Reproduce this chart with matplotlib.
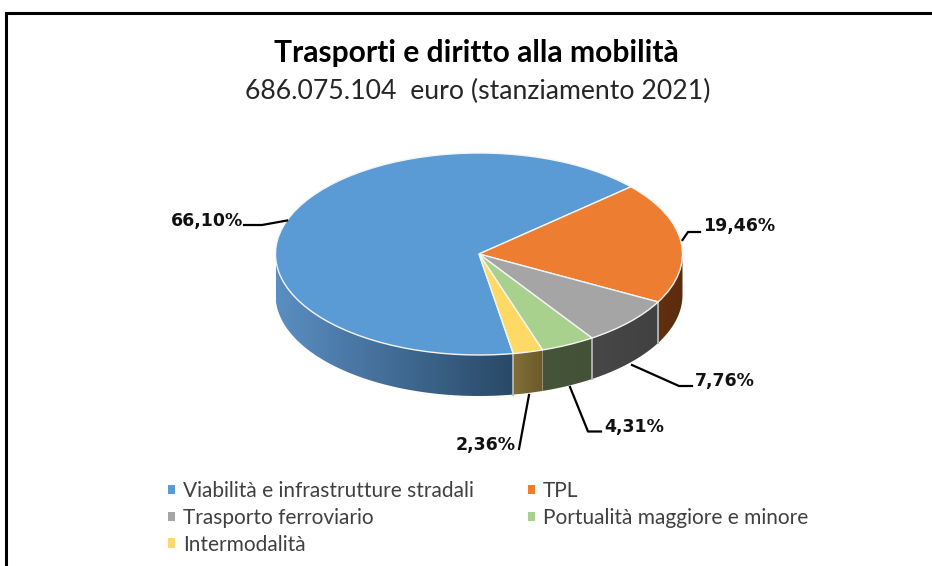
"""Trasporti e diritto alla mobilita: 3D style pie chart."""

import matplotlib

matplotlib.use("Agg")
import matplotlib.pyplot as plt
import numpy as np
from matplotlib.colors import LinearSegmentedColormap
from matplotlib.patches import Patch, Polygon

categories = [
    "Viabilità e infrastrutture stradali",
    "TPL",
    "Trasporto ferroviario",
    "Portualità maggiore e minore",
    "Intermodalità",
]
values = [66.10, 19.46, 7.76, 4.31, 2.36]
value_labels = ["66,10%", "19,46%", "7,76%", "4,31%", "2,36%"]
colors = ["#5B9BD5", "#ED7D31", "#A5A5A5", "#A9D18E", "#FFD966"]
wall_left = ["#5A8EC2", "#63300F", "#474747", "#46553A", "#80703A"]
wall_right = ["#294967", "#5A2C0E", "#414141", "#435236", "#6C5A28"]

START_ANGLE = -80.3
DEPTH = 41 / 101

fig = plt.figure(figsize=(9.32, 5.66), dpi=100)
W, H = 932, 566

# overlay in pixel coordinates for frame, titles and leader lines
over = fig.add_axes([0, 0, 1, 1], zorder=3)
over.set_xlim(0, W)
over.set_ylim(H, 0)
over.axis("off")
over.patch.set_alpha(0)

# pie axes: unit circle squashed to the ellipse, with room below for the wall
left, right, top, bottom = 275.5, 682.5, 153.0, 396.0
ax = fig.add_axes([left / W, 1 - bottom / H, (right - left) / W, (bottom - top) / H])
wedges, _ = ax.pie(
    values,
    colors=colors,
    startangle=START_ANGLE,
    counterclock=False,
    radius=1,
    wedgeprops={"edgecolor": "#F4F4F4", "linewidth": 1.0},
)

# side wall of every slice, only where it faces the viewer
edges = START_ANGLE - np.cumsum([0] + values) * 3.6
for i in range(len(values)):
    a, b = edges[i], edges[i + 1]
    while a < -180:
        a, b = a + 360, b + 360
    hi, lo = min(a, 0), max(b, -180)
    if hi <= lo:
        continue
    t = np.radians(np.linspace(hi, lo, 80))
    x, y = np.cos(t), np.sin(t)
    pts = np.vstack([np.c_[x, y], np.c_[x[::-1], y[::-1] - DEPTH]])
    cmap = LinearSegmentedColormap.from_list("wall", [wall_left[i], wall_right[i]])
    grad = np.linspace(0, 1, 256).reshape(1, -1)
    img = ax.imshow(
        grad,
        cmap=cmap,
        extent=(x.min(), x.max(), -1 - DEPTH, 1),
        aspect="auto",
        zorder=0,
    )
    poly = Polygon(pts, closed=True, transform=ax.transData, facecolor="none", edgecolor="none")
    ax.add_patch(poly)
    img.set_clip_path(poly)
    # no visible seam between the green and yellow walls in the original
    if lo > -180 and i != 3:
        xe, ye = np.cos(np.radians(lo)), np.sin(np.radians(lo))
        ax.plot([xe, xe], [ye, ye - DEPTH], color="#B5B5B5", lw=1.3, zorder=0.5)

ax.set_aspect("auto")
ax.set_xlim(-1, 1)
ax.set_ylim(-1 - DEPTH, 1)
ax.axis("off")

# frame, cut off by the right and bottom edge of the picture
over.plot([6, 6, W], [H, 13, 13], color="black", lw=2.2, solid_joinstyle="miter")

over.text(476.5, 53, "Trasporti e diritto alla mobilità", ha="center", va="center",
          family="Lato", weight="bold", fontsize=21.6, color="black")
over.text(477.5, 91, "686.075.104  euro (stanziamento 2021)", ha="center", va="center",
          family="Lato", fontsize=19.2, color="#262626")

# leader lines and percentage labels
leaders = [
    [(244, 225), (262, 225), (287, 220.5)],
    [(682.5, 240), (688, 232), (700, 232)],
    [(632, 365), (679, 386), (692, 386)],
    [(570, 387), (588, 431.5), (601, 431.5)],
    [(529, 395), (519, 449)],
]
label_pos = [(206.5, 221), (739.5, 226), (724.5, 381), (634, 427), (486, 445)]
for pts, lab, pos in zip(leaders, value_labels, label_pos):
    xs, ys = zip(*pts)
    over.plot(xs, ys, color="black", lw=1.6)
    over.text(pos[0], pos[1], lab, ha="center", va="center", weight="bold",
              fontsize=12.5, color="#111111")

handles = [Patch(facecolor=c, edgecolor="none") for c in colors]
order = [0, 2, 4, 1, 3]
fig.legend(
    [handles[i] for i in order],
    [categories[i] for i in order],
    ncol=2,
    loc="upper left",
    bbox_to_anchor=(168 / W, 1 - 481 / H),
    frameon=False,
    prop={"family": "Lato", "size": 15},
    labelcolor="#404040",
    handlelength=0.33,
    handleheight=0.33,
    handletextpad=0.38,
    columnspacing=2.6,
    labelspacing=0.33,
    borderpad=0,
    borderaxespad=0,
)

plt.savefig("out.png", dpi=100)
